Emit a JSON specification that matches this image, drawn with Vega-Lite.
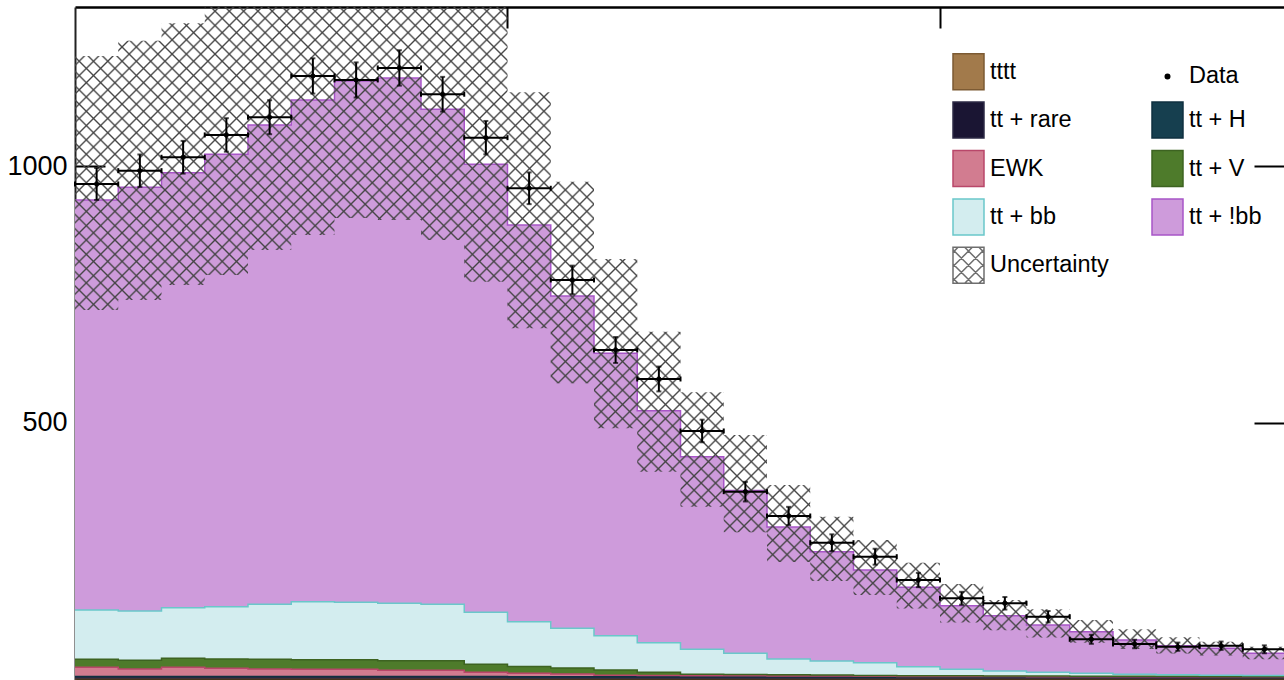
{
"$schema": "https://vega.github.io/schema/vega-lite/v6.json",
"width": 1209, "height": 672.5,
"autosize": "none",
"padding": {"left": 75, "top": 7, "right": 0, "bottom": 0},
"background": "white",
"config": {
 "view": {"stroke": null},
 "axis": {"grid": false},
 "legend": {"orient": "none", "legendX": 874.5, "legendY": 45.7, "columns": 2, "columnPadding": 39, "rowPadding": 6.4, "symbolSize": 1296, "labelFont": "Liberation Sans", "labelFontSize": 23.5, "labelColor": "#000", "labelOffset": 2.5, "symbolStrokeWidth": 1.5, "padding": 0, "labelLimit": 0, "symbolOpacity": 1}
},
"datasets": {"bins": [
{"x0":0,"x1":1,"xc":0.5,"tttt":0.5,"tt + rare":3.5,"tt + H":2,"EWK":17.8,"tt + V":15.6,"tt + bb":96,"tt + !bb":798.7,"Data":965.3,"err":31.1,"ulo":719.7,"uhi":1214.7},
{"x0":1,"x1":2,"xc":1.5,"tttt":0.5,"tt + rare":3.5,"tt + H":2,"EWK":14.5,"tt + V":16.9,"tt + bb":96.1,"tt + !bb":825.4,"Data":991.2,"err":31.5,"ulo":739.3,"uhi":1244.5},
{"x0":2,"x1":3,"xc":2.5,"tttt":0.5,"tt + rare":3.5,"tt + H":2,"EWK":17.8,"tt + V":17.5,"tt + bb":98.6,"tt + !bb":847.4,"Data":1017.3,"err":31.9,"ulo":768.6,"uhi":1278.4},
{"x0":3,"x1":4,"xc":3.5,"tttt":0.5,"tt + rare":3.5,"tt + H":2,"EWK":15.8,"tt + V":18.1,"tt + bb":101.9,"tt + !bb":881.4,"Data":1060.8,"err":32.6,"ulo":788,"uhi":1320},
{"x0":4,"x1":5,"xc":4.5,"tttt":0.5,"tt + rare":3.5,"tt + H":2,"EWK":14.5,"tt + V":18.9,"tt + bb":107.1,"tt + !bb":933.8,"Data":1095.3,"err":33.1,"ulo":836.7,"uhi":1394},
{"x0":5,"x1":6,"xc":5.5,"tttt":0.5,"tt + rare":3.5,"tt + H":2,"EWK":13.9,"tt + V":18.7,"tt + bb":113,"tt + !bb":977.4,"Data":1175.7,"err":34.3,"ulo":866,"uhi":1456},
{"x0":6,"x1":7,"xc":6.5,"tttt":0.5,"tt + rare":3.5,"tt + H":2,"EWK":13.9,"tt + V":18.7,"tt + bb":111.8,"tt + !bb":1015.6,"Data":1167.9,"err":34.2,"ulo":899,"uhi":1504},
{"x0":7,"x1":8,"xc":7.5,"tttt":0.5,"tt + rare":3.5,"tt + H":2,"EWK":11.9,"tt + V":18.7,"tt + bb":111.9,"tt + !bb":1023.3,"Data":1191.3,"err":34.5,"ulo":895,"uhi":1512},
{"x0":8,"x1":9,"xc":8.5,"tttt":0.5,"tt + rare":3.5,"tt + H":2,"EWK":11.9,"tt + V":18.7,"tt + bb":109.9,"tt + !bb":964.4,"Data":1140.1,"err":33.8,"ulo":856.2,"uhi":1433},
{"x0":9,"x1":10,"xc":9.5,"tttt":0.5,"tt + rare":3.5,"tt + H":2,"EWK":8,"tt + V":15.6,"tt + bb":101.3,"tt + !bb":872.8,"Data":1055.5,"err":32.5,"ulo":775,"uhi":1315},
{"x0":10,"x1":11,"xc":10.5,"tttt":0.4,"tt + rare":3.2,"tt + H":1.8,"EWK":6.7,"tt + V":13.2,"tt + bb":87.3,"tt + !bb":772.8,"Data":956.9,"err":30.9,"ulo":684.2,"uhi":1144},
{"x0":11,"x1":12,"xc":11.5,"tttt":0.4,"tt + rare":3.2,"tt + H":1.8,"EWK":5.3,"tt + V":11.7,"tt + bb":77.3,"tt + !bb":647.4,"Data":778.3,"err":27.9,"ulo":577,"uhi":969.8},
{"x0":12,"x1":13,"xc":12.5,"tttt":0.4,"tt + rare":3.2,"tt + H":1.8,"EWK":3,"tt + V":10.1,"tt + bb":66.8,"tt + !bb":550.1,"Data":641.9,"err":25.3,"ulo":489.4,"uhi":819.2},
{"x0":13,"x1":14,"xc":13.5,"tttt":0.4,"tt + rare":3.2,"tt + H":1.8,"EWK":2.5,"tt + V":6.1,"tt + bb":57.7,"tt + !bb":451.9,"Data":585.4,"err":24.2,"ulo":404.8,"uhi":677.6},
{"x0":14,"x1":15,"xc":14.5,"tttt":0.4,"tt + rare":3.2,"tt + H":1.8,"EWK":2,"tt + V":3,"tt + bb":48.4,"tt + !bb":375.2,"Data":484.1,"err":22,"ulo":336.6,"uhi":559.5},
{"x0":15,"x1":16,"xc":15.5,"tttt":0.4,"tt + rare":3.2,"tt + H":1.8,"EWK":1.8,"tt + V":2.6,"tt + bb":41.2,"tt + !bb":317,"Data":365.9,"err":19.1,"ulo":287,"uhi":476.3},
{"x0":16,"x1":17,"xc":16.5,"tttt":0.4,"tt + rare":3.2,"tt + H":1.8,"EWK":1.5,"tt + V":2.3,"tt + bb":30.7,"tt + !bb":257.1,"Data":318.5,"err":17.8,"ulo":229,"uhi":379},
{"x0":17,"x1":18,"xc":17.5,"tttt":0.4,"tt + rare":3.2,"tt + H":1.8,"EWK":1.3,"tt + V":2,"tt + bb":27.3,"tt + !bb":212.8,"Data":266.5,"err":16.3,"ulo":192,"uhi":317.2},
{"x0":18,"x1":19,"xc":18.5,"tttt":0.3,"tt + rare":3,"tt + H":1.6,"EWK":1.2,"tt + V":1.8,"tt + bb":24.8,"tt + !bb":180.6,"Data":239.2,"err":15.5,"ulo":164.5,"uhi":271.8},
{"x0":19,"x1":20,"xc":19.5,"tttt":0.3,"tt + rare":3,"tt + H":1.6,"EWK":1,"tt + V":1.6,"tt + bb":17.4,"tt + !bb":154.7,"Data":193.8,"err":13.9,"ulo":138.5,"uhi":227.5},
{"x0":20,"x1":21,"xc":20.5,"tttt":0.3,"tt + rare":3,"tt + H":1.6,"EWK":0.9,"tt + V":1.4,"tt + bb":12.7,"tt + !bb":123.9,"Data":158.2,"err":12.6,"ulo":111,"uhi":186},
{"x0":21,"x1":22,"xc":21.5,"tttt":0.3,"tt + rare":3,"tt + H":1.6,"EWK":0.8,"tt + V":1.2,"tt + bb":9.5,"tt + !bb":107.9,"Data":148.5,"err":12.2,"ulo":95.7,"uhi":155},
{"x0":22,"x1":23,"xc":22.5,"tttt":0.3,"tt + rare":3,"tt + H":1.6,"EWK":0.7,"tt + V":1.1,"tt + bb":7.5,"tt + !bb":92,"Data":122.3,"err":11.1,"ulo":81.8,"uhi":136.7},
{"x0":23,"x1":24,"xc":23.5,"tttt":0.3,"tt + rare":3,"tt + H":1.6,"EWK":0.6,"tt + V":1,"tt + bb":5.5,"tt + !bb":81.2,"Data":78.3,"err":8.8,"ulo":71.8,"uhi":115.9},
{"x0":24,"x1":25,"xc":24.5,"tttt":0.3,"tt + rare":3,"tt + H":1.6,"EWK":0.5,"tt + V":0.9,"tt + bb":4,"tt + !bb":66.7,"Data":69.2,"err":8.3,"ulo":59.3,"uhi":97.8},
{"x0":25,"x1":26,"xc":25.5,"tttt":0.3,"tt + rare":3,"tt + H":1.6,"EWK":0.5,"tt + V":0.8,"tt + bb":3,"tt + !bb":56.7,"Data":63.9,"err":8,"ulo":50.7,"uhi":82.2},
{"x0":26,"x1":27,"xc":26.5,"tttt":0.3,"tt + rare":3,"tt + H":1.6,"EWK":0.4,"tt + V":0.7,"tt + bb":2.5,"tt + !bb":52.3,"Data":65.8,"err":8.1,"ulo":46.8,"uhi":73.6},
{"x0":27,"x1":28,"xc":27.5,"tttt":0.3,"tt + rare":3,"tt + H":1.6,"EWK":0.4,"tt + V":0.6,"tt + bb":2,"tt + !bb":43.1,"Data":58.8,"err":7.7,"ulo":39.3,"uhi":64}
]},
"data": {"name": "bins"},
"layer": [
{
 "transform": [
  {"fold": ["tttt","tt + rare","tt + H","EWK","tt + V","tt + bb","tt + !bb"], "as": ["p","n"]},
  {"stack": "n", "groupby": ["x0"], "as": ["c0","c1"]},
  {"fold": ["x0","x1"], "as": ["ek","edge"]}
 ],
 "mark": {"type": "area", "interpolate": "linear", "opacity": 1, "clip": true},
 "encoding": {
  "x": {"field": "edge", "type": "quantitative", "scale": {"domain": [0, 27.954], "nice": false, "zero": false}, "axis": {"orient": "bottom", "labels": false, "ticks": false, "domain": true, "domainColor": "#000", "domainWidth": 2, "title": null, "grid": false}},
  "y": {"field": "c0", "type": "quantitative", "scale": {"domain": [0, 1310], "nice": false, "zero": false}, "axis": {"orient": "left", "values": [500, 1000], "format": "d", "tickSize": -30, "tickWidth": 2, "tickColor": "#000", "labelPadding": 38, "labelFont": "Liberation Sans", "labelFontSize": 27, "labelColor": "#000", "domain": true, "domainColor": "#222", "domainWidth": 2, "title": null, "grid": false}},
  "y2": {"field": "c1"},
  "fill": {"field": "p", "type": "nominal", "scale": {"domain": ["tttt","tt + rare","EWK","tt + bb","Uncertainty","Data","tt + H","tt + V","tt + !bb"], "range": ["#a27a4b","#1a1533","#d27c90","#d3edef","#ffffff","#000000","#163f4f","#4e7b2b","#ce9bdb"]}, "legend": {"title": null}},
  "order": [{"field": "edge", "type": "quantitative"}, {"field": "x0", "type": "quantitative"}]
 }
},
{
 "transform": [
  {"fold": ["tttt","tt + rare","tt + H","EWK","tt + V","tt + bb","tt + !bb"], "as": ["p","n"]},
  {"stack": "n", "groupby": ["x0"], "as": ["c0","c1"]},
  {"fold": ["x0","x1"], "as": ["ek","edge"]}
 ],
 "mark": {"type": "line", "interpolate": "linear", "strokeWidth": 1.5, "clip": true},
 "encoding": {
  "x": {"field": "edge", "type": "quantitative", "scale": {"domain": [0, 27.954], "nice": false, "zero": false}, "axis": {"orient": "top", "values": [10, 20], "tickSize": -21, "tickWidth": 2, "tickColor": "#000", "labels": false, "domain": true, "domainColor": "#000", "domainWidth": 2.5, "title": null, "grid": false}},
  "y": {"field": "c1", "type": "quantitative", "scale": {"domain": [0, 1310], "nice": false, "zero": false}, "axis": {"orient": "right", "values": [500, 1000], "tickSize": -30, "tickWidth": 2, "tickColor": "#000", "labels": false, "domain": false, "title": null, "grid": false}},
  "stroke": {"field": "p", "type": "nominal", "scale": {"domain": ["tttt","tt + rare","EWK","tt + bb","Uncertainty","Data","tt + H","tt + V","tt + !bb"], "range": ["#7c5a33","#2d2a45","#b9476a","#6ac7ca","#6e6e6e","#000000","#0f3040","#3d6321","#a855c8"]}, "legend": {"title": null}},
  "order": [{"field": "edge", "type": "quantitative"}, {"field": "x0", "type": "quantitative"}]
 }
},
{
 "transform": [{"fold": ["x0","x1"], "as": ["ek","edge"]}],
 "mark": {"type": "area", "interpolate": "linear", "clip": true, "opacity": 1, "fill": {"gradient": "linear", "x1": 0.0357, "y1": 0.0223, "x2": 1.1686, "y2": 0.7295, "stops": [
{"offset":0.045,"color":"#4440"},{"offset":0.046,"color":"#444"},{"offset":0.047,"color":"#4440"},
{"offset":0.0525,"color":"#4440"},{"offset":0.0535,"color":"#444"},{"offset":0.0545,"color":"#4440"},
{"offset":0.06,"color":"#4440"},{"offset":0.061,"color":"#444"},{"offset":0.062,"color":"#4440"},
{"offset":0.0675,"color":"#4440"},{"offset":0.0685,"color":"#444"},{"offset":0.0695,"color":"#4440"},
{"offset":0.075,"color":"#4440"},{"offset":0.076,"color":"#444"},{"offset":0.077,"color":"#4440"},
{"offset":0.0825,"color":"#4440"},{"offset":0.0835,"color":"#444"},{"offset":0.0845,"color":"#4440"},
{"offset":0.09,"color":"#4440"},{"offset":0.091,"color":"#444"},{"offset":0.092,"color":"#4440"},
{"offset":0.0975,"color":"#4440"},{"offset":0.0985,"color":"#444"},{"offset":0.0995,"color":"#4440"},
{"offset":0.105,"color":"#4440"},{"offset":0.106,"color":"#444"},{"offset":0.107,"color":"#4440"},
{"offset":0.1125,"color":"#4440"},{"offset":0.1135,"color":"#444"},{"offset":0.1145,"color":"#4440"},
{"offset":0.12,"color":"#4440"},{"offset":0.121,"color":"#444"},{"offset":0.122,"color":"#4440"},
{"offset":0.1275,"color":"#4440"},{"offset":0.1285,"color":"#444"},{"offset":0.1295,"color":"#4440"},
{"offset":0.135,"color":"#4440"},{"offset":0.136,"color":"#444"},{"offset":0.137,"color":"#4440"},
{"offset":0.1425,"color":"#4440"},{"offset":0.1435,"color":"#444"},{"offset":0.1445,"color":"#4440"},
{"offset":0.15,"color":"#4440"},{"offset":0.151,"color":"#444"},{"offset":0.152,"color":"#4440"},
{"offset":0.1575,"color":"#4440"},{"offset":0.1585,"color":"#444"},{"offset":0.1595,"color":"#4440"},
{"offset":0.165,"color":"#4440"},{"offset":0.166,"color":"#444"},{"offset":0.167,"color":"#4440"},
{"offset":0.1725,"color":"#4440"},{"offset":0.1735,"color":"#444"},{"offset":0.1745,"color":"#4440"},
{"offset":0.18,"color":"#4440"},{"offset":0.181,"color":"#444"},{"offset":0.182,"color":"#4440"},
{"offset":0.1875,"color":"#4440"},{"offset":0.1885,"color":"#444"},{"offset":0.1895,"color":"#4440"},
{"offset":0.195,"color":"#4440"},{"offset":0.196,"color":"#444"},{"offset":0.197,"color":"#4440"},
{"offset":0.2025,"color":"#4440"},{"offset":0.2035,"color":"#444"},{"offset":0.2045,"color":"#4440"},
{"offset":0.21,"color":"#4440"},{"offset":0.211,"color":"#444"},{"offset":0.212,"color":"#4440"},
{"offset":0.2175,"color":"#4440"},{"offset":0.2185,"color":"#444"},{"offset":0.2195,"color":"#4440"},
{"offset":0.225,"color":"#4440"},{"offset":0.226,"color":"#444"},{"offset":0.227,"color":"#4440"},
{"offset":0.2325,"color":"#4440"},{"offset":0.2335,"color":"#444"},{"offset":0.2345,"color":"#4440"},
{"offset":0.24,"color":"#4440"},{"offset":0.241,"color":"#444"},{"offset":0.242,"color":"#4440"},
{"offset":0.2475,"color":"#4440"},{"offset":0.2485,"color":"#444"},{"offset":0.2495,"color":"#4440"},
{"offset":0.255,"color":"#4440"},{"offset":0.256,"color":"#444"},{"offset":0.257,"color":"#4440"},
{"offset":0.2625,"color":"#4440"},{"offset":0.2635,"color":"#444"},{"offset":0.2645,"color":"#4440"},
{"offset":0.27,"color":"#4440"},{"offset":0.271,"color":"#444"},{"offset":0.272,"color":"#4440"},
{"offset":0.2775,"color":"#4440"},{"offset":0.2785,"color":"#444"},{"offset":0.2795,"color":"#4440"},
{"offset":0.285,"color":"#4440"},{"offset":0.286,"color":"#444"},{"offset":0.287,"color":"#4440"},
{"offset":0.2925,"color":"#4440"},{"offset":0.2935,"color":"#444"},{"offset":0.2945,"color":"#4440"},
{"offset":0.3,"color":"#4440"},{"offset":0.301,"color":"#444"},{"offset":0.302,"color":"#4440"},
{"offset":0.3075,"color":"#4440"},{"offset":0.3085,"color":"#444"},{"offset":0.3095,"color":"#4440"},
{"offset":0.315,"color":"#4440"},{"offset":0.316,"color":"#444"},{"offset":0.317,"color":"#4440"},
{"offset":0.3225,"color":"#4440"},{"offset":0.3235,"color":"#444"},{"offset":0.3245,"color":"#4440"},
{"offset":0.33,"color":"#4440"},{"offset":0.331,"color":"#444"},{"offset":0.332,"color":"#4440"},
{"offset":0.3375,"color":"#4440"},{"offset":0.3385,"color":"#444"},{"offset":0.3395,"color":"#4440"},
{"offset":0.345,"color":"#4440"},{"offset":0.346,"color":"#444"},{"offset":0.347,"color":"#4440"},
{"offset":0.3525,"color":"#4440"},{"offset":0.3535,"color":"#444"},{"offset":0.3545,"color":"#4440"},
{"offset":0.36,"color":"#4440"},{"offset":0.361,"color":"#444"},{"offset":0.362,"color":"#4440"},
{"offset":0.3675,"color":"#4440"},{"offset":0.3685,"color":"#444"},{"offset":0.3695,"color":"#4440"},
{"offset":0.375,"color":"#4440"},{"offset":0.376,"color":"#444"},{"offset":0.377,"color":"#4440"},
{"offset":0.3825,"color":"#4440"},{"offset":0.3835,"color":"#444"},{"offset":0.3845,"color":"#4440"},
{"offset":0.39,"color":"#4440"},{"offset":0.391,"color":"#444"},{"offset":0.392,"color":"#4440"},
{"offset":0.3975,"color":"#4440"},{"offset":0.3985,"color":"#444"},{"offset":0.3995,"color":"#4440"},
{"offset":0.405,"color":"#4440"},{"offset":0.406,"color":"#444"},{"offset":0.407,"color":"#4440"},
{"offset":0.4125,"color":"#4440"},{"offset":0.4135,"color":"#444"},{"offset":0.4145,"color":"#4440"},
{"offset":0.42,"color":"#4440"},{"offset":0.421,"color":"#444"},{"offset":0.422,"color":"#4440"},
{"offset":0.4275,"color":"#4440"},{"offset":0.4285,"color":"#444"},{"offset":0.4295,"color":"#4440"},
{"offset":0.435,"color":"#4440"},{"offset":0.436,"color":"#444"},{"offset":0.437,"color":"#4440"},
{"offset":0.4425,"color":"#4440"},{"offset":0.4435,"color":"#444"},{"offset":0.4445,"color":"#4440"},
{"offset":0.45,"color":"#4440"},{"offset":0.451,"color":"#444"},{"offset":0.452,"color":"#4440"},
{"offset":0.4575,"color":"#4440"},{"offset":0.4585,"color":"#444"},{"offset":0.4595,"color":"#4440"},
{"offset":0.465,"color":"#4440"},{"offset":0.466,"color":"#444"},{"offset":0.467,"color":"#4440"},
{"offset":0.4725,"color":"#4440"},{"offset":0.4735,"color":"#444"},{"offset":0.4745,"color":"#4440"},
{"offset":0.48,"color":"#4440"},{"offset":0.481,"color":"#444"},{"offset":0.482,"color":"#4440"},
{"offset":0.4875,"color":"#4440"},{"offset":0.4885,"color":"#444"},{"offset":0.4895,"color":"#4440"},
{"offset":0.495,"color":"#4440"},{"offset":0.496,"color":"#444"},{"offset":0.497,"color":"#4440"},
{"offset":0.5025,"color":"#4440"},{"offset":0.5035,"color":"#444"},{"offset":0.5045,"color":"#4440"},
{"offset":0.51,"color":"#4440"},{"offset":0.511,"color":"#444"},{"offset":0.512,"color":"#4440"},
{"offset":0.5175,"color":"#4440"},{"offset":0.5185,"color":"#444"},{"offset":0.5195,"color":"#4440"},
{"offset":0.525,"color":"#4440"},{"offset":0.526,"color":"#444"},{"offset":0.527,"color":"#4440"},
{"offset":0.5325,"color":"#4440"},{"offset":0.5335,"color":"#444"},{"offset":0.5345,"color":"#4440"},
{"offset":0.54,"color":"#4440"},{"offset":0.541,"color":"#444"},{"offset":0.542,"color":"#4440"},
{"offset":0.5475,"color":"#4440"},{"offset":0.5485,"color":"#444"},{"offset":0.5495,"color":"#4440"},
{"offset":0.555,"color":"#4440"},{"offset":0.556,"color":"#444"},{"offset":0.557,"color":"#4440"},
{"offset":0.5625,"color":"#4440"},{"offset":0.5635,"color":"#444"},{"offset":0.5645,"color":"#4440"},
{"offset":0.57,"color":"#4440"},{"offset":0.571,"color":"#444"},{"offset":0.572,"color":"#4440"},
{"offset":0.5775,"color":"#4440"},{"offset":0.5785,"color":"#444"},{"offset":0.5795,"color":"#4440"},
{"offset":0.585,"color":"#4440"},{"offset":0.586,"color":"#444"},{"offset":0.587,"color":"#4440"},
{"offset":0.5925,"color":"#4440"},{"offset":0.5935,"color":"#444"},{"offset":0.5945,"color":"#4440"},
{"offset":0.6,"color":"#4440"},{"offset":0.601,"color":"#444"},{"offset":0.602,"color":"#4440"},
{"offset":0.6075,"color":"#4440"},{"offset":0.6085,"color":"#444"},{"offset":0.6095,"color":"#4440"},
{"offset":0.615,"color":"#4440"},{"offset":0.616,"color":"#444"},{"offset":0.617,"color":"#4440"},
{"offset":0.6225,"color":"#4440"},{"offset":0.6235,"color":"#444"},{"offset":0.6245,"color":"#4440"},
{"offset":0.63,"color":"#4440"},{"offset":0.631,"color":"#444"},{"offset":0.632,"color":"#4440"},
{"offset":0.6375,"color":"#4440"},{"offset":0.6385,"color":"#444"},{"offset":0.6395,"color":"#4440"},
{"offset":0.645,"color":"#4440"},{"offset":0.646,"color":"#444"},{"offset":0.647,"color":"#4440"},
{"offset":0.6525,"color":"#4440"},{"offset":0.6535,"color":"#444"},{"offset":0.6545,"color":"#4440"},
{"offset":0.66,"color":"#4440"},{"offset":0.661,"color":"#444"},{"offset":0.662,"color":"#4440"},
{"offset":0.6675,"color":"#4440"},{"offset":0.6685,"color":"#444"},{"offset":0.6695,"color":"#4440"},
{"offset":0.675,"color":"#4440"},{"offset":0.676,"color":"#444"},{"offset":0.677,"color":"#4440"},
{"offset":0.6825,"color":"#4440"},{"offset":0.6835,"color":"#444"},{"offset":0.6845,"color":"#4440"},
{"offset":0.69,"color":"#4440"},{"offset":0.691,"color":"#444"},{"offset":0.692,"color":"#4440"},
{"offset":0.6975,"color":"#4440"},{"offset":0.6985,"color":"#444"},{"offset":0.6995,"color":"#4440"},
{"offset":0.705,"color":"#4440"},{"offset":0.706,"color":"#444"},{"offset":0.707,"color":"#4440"},
{"offset":0.7125,"color":"#4440"},{"offset":0.7135,"color":"#444"},{"offset":0.7145,"color":"#4440"},
{"offset":0.72,"color":"#4440"},{"offset":0.721,"color":"#444"},{"offset":0.722,"color":"#4440"},
{"offset":0.7275,"color":"#4440"},{"offset":0.7285,"color":"#444"},{"offset":0.7295,"color":"#4440"},
{"offset":0.735,"color":"#4440"},{"offset":0.736,"color":"#444"},{"offset":0.737,"color":"#4440"},
{"offset":0.7425,"color":"#4440"},{"offset":0.7435,"color":"#444"},{"offset":0.7445,"color":"#4440"},
{"offset":0.75,"color":"#4440"},{"offset":0.751,"color":"#444"},{"offset":0.752,"color":"#4440"},
{"offset":0.7575,"color":"#4440"},{"offset":0.7585,"color":"#444"},{"offset":0.7595,"color":"#4440"},
{"offset":0.765,"color":"#4440"},{"offset":0.766,"color":"#444"},{"offset":0.767,"color":"#4440"},
{"offset":0.7725,"color":"#4440"},{"offset":0.7735,"color":"#444"},{"offset":0.7745,"color":"#4440"},
{"offset":0.78,"color":"#4440"},{"offset":0.781,"color":"#444"},{"offset":0.782,"color":"#4440"},
{"offset":0.7875,"color":"#4440"},{"offset":0.7885,"color":"#444"},{"offset":0.7895,"color":"#4440"},
{"offset":0.795,"color":"#4440"},{"offset":0.796,"color":"#444"},{"offset":0.797,"color":"#4440"},
{"offset":0.8025,"color":"#4440"},{"offset":0.8035,"color":"#444"},{"offset":0.8045,"color":"#4440"},
{"offset":0.81,"color":"#4440"},{"offset":0.811,"color":"#444"},{"offset":0.812,"color":"#4440"},
{"offset":0.8175,"color":"#4440"},{"offset":0.8185,"color":"#444"},{"offset":0.8195,"color":"#4440"},
{"offset":0.825,"color":"#4440"},{"offset":0.826,"color":"#444"},{"offset":0.827,"color":"#4440"},
{"offset":0.8325,"color":"#4440"},{"offset":0.8335,"color":"#444"},{"offset":0.8345,"color":"#4440"},
{"offset":0.84,"color":"#4440"},{"offset":0.841,"color":"#444"},{"offset":0.842,"color":"#4440"},
{"offset":0.8475,"color":"#4440"},{"offset":0.8485,"color":"#444"},{"offset":0.8495,"color":"#4440"},
{"offset":0.855,"color":"#4440"},{"offset":0.856,"color":"#444"},{"offset":0.857,"color":"#4440"},
{"offset":0.8625,"color":"#4440"},{"offset":0.8635,"color":"#444"},{"offset":0.8645,"color":"#4440"},
{"offset":0.87,"color":"#4440"},{"offset":0.871,"color":"#444"},{"offset":0.872,"color":"#4440"},
{"offset":0.8775,"color":"#4440"},{"offset":0.8785,"color":"#444"},{"offset":0.8795,"color":"#4440"},
{"offset":0.885,"color":"#4440"},{"offset":0.886,"color":"#444"},{"offset":0.887,"color":"#4440"},
{"offset":0.8925,"color":"#4440"},{"offset":0.8935,"color":"#444"},{"offset":0.8945,"color":"#4440"},
{"offset":0.9,"color":"#4440"},{"offset":0.901,"color":"#444"},{"offset":0.902,"color":"#4440"},
{"offset":0.9075,"color":"#4440"},{"offset":0.9085,"color":"#444"},{"offset":0.9095,"color":"#4440"},
{"offset":0.915,"color":"#4440"},{"offset":0.916,"color":"#444"},{"offset":0.917,"color":"#4440"},
{"offset":0.9225,"color":"#4440"},{"offset":0.9235,"color":"#444"},{"offset":0.9245,"color":"#4440"},
{"offset":0.93,"color":"#4440"},{"offset":0.931,"color":"#444"},{"offset":0.932,"color":"#4440"},
{"offset":0.9375,"color":"#4440"},{"offset":0.9385,"color":"#444"},{"offset":0.9395,"color":"#4440"},
{"offset":0.945,"color":"#4440"},{"offset":0.946,"color":"#444"},{"offset":0.947,"color":"#4440"},
{"offset":0.9525,"color":"#4440"},{"offset":0.9535,"color":"#444"},{"offset":0.9545,"color":"#4440"},
{"offset":0.96,"color":"#4440"},{"offset":0.961,"color":"#444"},{"offset":0.962,"color":"#4440"},
{"offset":0.9675,"color":"#4440"},{"offset":0.9685,"color":"#444"},{"offset":0.9695,"color":"#4440"},
{"offset":0.975,"color":"#4440"},{"offset":0.976,"color":"#444"},{"offset":0.977,"color":"#4440"},
{"offset":0.9825,"color":"#4440"},{"offset":0.9835,"color":"#444"},{"offset":0.9845,"color":"#4440"},
{"offset":0.99,"color":"#4440"},{"offset":0.991,"color":"#444"},{"offset":0.992,"color":"#4440"},
{"offset":0.9975,"color":"#4440"},{"offset":0.9985,"color":"#444"},{"offset":0.9995,"color":"#4440"}
 ]}},
 "encoding": {
  "x": {"field": "edge", "type": "quantitative", "scale": {"domain": [0, 27.954], "nice": false, "zero": false}, "axis": null},
  "y": {"field": "ulo", "type": "quantitative", "scale": {"domain": [0, 1310], "nice": false, "zero": false}, "axis": null},
  "y2": {"field": "uhi"},
  "order": [{"field": "edge", "type": "quantitative"}, {"field": "x0", "type": "quantitative"}]
 }
},
{
 "transform": [{"fold": ["x0","x1"], "as": ["ek","edge"]}],
 "mark": {"type": "area", "interpolate": "linear", "clip": true, "opacity": 1, "fill": {"gradient": "linear", "x1": 0.1783, "y1": 0.8887, "x2": 1.3112, "y2": 0.1814, "stops": [
{"offset":0.0225,"color":"#4440"},{"offset":0.0235,"color":"#444"},{"offset":0.0245,"color":"#4440"},
{"offset":0.03,"color":"#4440"},{"offset":0.031,"color":"#444"},{"offset":0.032,"color":"#4440"},
{"offset":0.0375,"color":"#4440"},{"offset":0.0385,"color":"#444"},{"offset":0.0395,"color":"#4440"},
{"offset":0.045,"color":"#4440"},{"offset":0.046,"color":"#444"},{"offset":0.047,"color":"#4440"},
{"offset":0.0525,"color":"#4440"},{"offset":0.0535,"color":"#444"},{"offset":0.0545,"color":"#4440"},
{"offset":0.06,"color":"#4440"},{"offset":0.061,"color":"#444"},{"offset":0.062,"color":"#4440"},
{"offset":0.0675,"color":"#4440"},{"offset":0.0685,"color":"#444"},{"offset":0.0695,"color":"#4440"},
{"offset":0.075,"color":"#4440"},{"offset":0.076,"color":"#444"},{"offset":0.077,"color":"#4440"},
{"offset":0.0825,"color":"#4440"},{"offset":0.0835,"color":"#444"},{"offset":0.0845,"color":"#4440"},
{"offset":0.09,"color":"#4440"},{"offset":0.091,"color":"#444"},{"offset":0.092,"color":"#4440"},
{"offset":0.0975,"color":"#4440"},{"offset":0.0985,"color":"#444"},{"offset":0.0995,"color":"#4440"},
{"offset":0.105,"color":"#4440"},{"offset":0.106,"color":"#444"},{"offset":0.107,"color":"#4440"},
{"offset":0.1125,"color":"#4440"},{"offset":0.1135,"color":"#444"},{"offset":0.1145,"color":"#4440"},
{"offset":0.12,"color":"#4440"},{"offset":0.121,"color":"#444"},{"offset":0.122,"color":"#4440"},
{"offset":0.1275,"color":"#4440"},{"offset":0.1285,"color":"#444"},{"offset":0.1295,"color":"#4440"},
{"offset":0.135,"color":"#4440"},{"offset":0.136,"color":"#444"},{"offset":0.137,"color":"#4440"},
{"offset":0.1425,"color":"#4440"},{"offset":0.1435,"color":"#444"},{"offset":0.1445,"color":"#4440"},
{"offset":0.15,"color":"#4440"},{"offset":0.151,"color":"#444"},{"offset":0.152,"color":"#4440"},
{"offset":0.1575,"color":"#4440"},{"offset":0.1585,"color":"#444"},{"offset":0.1595,"color":"#4440"},
{"offset":0.165,"color":"#4440"},{"offset":0.166,"color":"#444"},{"offset":0.167,"color":"#4440"},
{"offset":0.1725,"color":"#4440"},{"offset":0.1735,"color":"#444"},{"offset":0.1745,"color":"#4440"},
{"offset":0.18,"color":"#4440"},{"offset":0.181,"color":"#444"},{"offset":0.182,"color":"#4440"},
{"offset":0.1875,"color":"#4440"},{"offset":0.1885,"color":"#444"},{"offset":0.1895,"color":"#4440"},
{"offset":0.195,"color":"#4440"},{"offset":0.196,"color":"#444"},{"offset":0.197,"color":"#4440"},
{"offset":0.2025,"color":"#4440"},{"offset":0.2035,"color":"#444"},{"offset":0.2045,"color":"#4440"},
{"offset":0.21,"color":"#4440"},{"offset":0.211,"color":"#444"},{"offset":0.212,"color":"#4440"},
{"offset":0.2175,"color":"#4440"},{"offset":0.2185,"color":"#444"},{"offset":0.2195,"color":"#4440"},
{"offset":0.225,"color":"#4440"},{"offset":0.226,"color":"#444"},{"offset":0.227,"color":"#4440"},
{"offset":0.2325,"color":"#4440"},{"offset":0.2335,"color":"#444"},{"offset":0.2345,"color":"#4440"},
{"offset":0.24,"color":"#4440"},{"offset":0.241,"color":"#444"},{"offset":0.242,"color":"#4440"},
{"offset":0.2475,"color":"#4440"},{"offset":0.2485,"color":"#444"},{"offset":0.2495,"color":"#4440"},
{"offset":0.255,"color":"#4440"},{"offset":0.256,"color":"#444"},{"offset":0.257,"color":"#4440"},
{"offset":0.2625,"color":"#4440"},{"offset":0.2635,"color":"#444"},{"offset":0.2645,"color":"#4440"},
{"offset":0.27,"color":"#4440"},{"offset":0.271,"color":"#444"},{"offset":0.272,"color":"#4440"},
{"offset":0.2775,"color":"#4440"},{"offset":0.2785,"color":"#444"},{"offset":0.2795,"color":"#4440"},
{"offset":0.285,"color":"#4440"},{"offset":0.286,"color":"#444"},{"offset":0.287,"color":"#4440"},
{"offset":0.2925,"color":"#4440"},{"offset":0.2935,"color":"#444"},{"offset":0.2945,"color":"#4440"},
{"offset":0.3,"color":"#4440"},{"offset":0.301,"color":"#444"},{"offset":0.302,"color":"#4440"},
{"offset":0.3075,"color":"#4440"},{"offset":0.3085,"color":"#444"},{"offset":0.3095,"color":"#4440"},
{"offset":0.315,"color":"#4440"},{"offset":0.316,"color":"#444"},{"offset":0.317,"color":"#4440"},
{"offset":0.3225,"color":"#4440"},{"offset":0.3235,"color":"#444"},{"offset":0.3245,"color":"#4440"},
{"offset":0.33,"color":"#4440"},{"offset":0.331,"color":"#444"},{"offset":0.332,"color":"#4440"},
{"offset":0.3375,"color":"#4440"},{"offset":0.3385,"color":"#444"},{"offset":0.3395,"color":"#4440"},
{"offset":0.345,"color":"#4440"},{"offset":0.346,"color":"#444"},{"offset":0.347,"color":"#4440"},
{"offset":0.3525,"color":"#4440"},{"offset":0.3535,"color":"#444"},{"offset":0.3545,"color":"#4440"},
{"offset":0.36,"color":"#4440"},{"offset":0.361,"color":"#444"},{"offset":0.362,"color":"#4440"},
{"offset":0.3675,"color":"#4440"},{"offset":0.3685,"color":"#444"},{"offset":0.3695,"color":"#4440"},
{"offset":0.375,"color":"#4440"},{"offset":0.376,"color":"#444"},{"offset":0.377,"color":"#4440"},
{"offset":0.3825,"color":"#4440"},{"offset":0.3835,"color":"#444"},{"offset":0.3845,"color":"#4440"},
{"offset":0.39,"color":"#4440"},{"offset":0.391,"color":"#444"},{"offset":0.392,"color":"#4440"},
{"offset":0.3975,"color":"#4440"},{"offset":0.3985,"color":"#444"},{"offset":0.3995,"color":"#4440"},
{"offset":0.405,"color":"#4440"},{"offset":0.406,"color":"#444"},{"offset":0.407,"color":"#4440"},
{"offset":0.4125,"color":"#4440"},{"offset":0.4135,"color":"#444"},{"offset":0.4145,"color":"#4440"},
{"offset":0.42,"color":"#4440"},{"offset":0.421,"color":"#444"},{"offset":0.422,"color":"#4440"},
{"offset":0.4275,"color":"#4440"},{"offset":0.4285,"color":"#444"},{"offset":0.4295,"color":"#4440"},
{"offset":0.435,"color":"#4440"},{"offset":0.436,"color":"#444"},{"offset":0.437,"color":"#4440"},
{"offset":0.4425,"color":"#4440"},{"offset":0.4435,"color":"#444"},{"offset":0.4445,"color":"#4440"},
{"offset":0.45,"color":"#4440"},{"offset":0.451,"color":"#444"},{"offset":0.452,"color":"#4440"},
{"offset":0.4575,"color":"#4440"},{"offset":0.4585,"color":"#444"},{"offset":0.4595,"color":"#4440"},
{"offset":0.465,"color":"#4440"},{"offset":0.466,"color":"#444"},{"offset":0.467,"color":"#4440"},
{"offset":0.4725,"color":"#4440"},{"offset":0.4735,"color":"#444"},{"offset":0.4745,"color":"#4440"},
{"offset":0.48,"color":"#4440"},{"offset":0.481,"color":"#444"},{"offset":0.482,"color":"#4440"},
{"offset":0.4875,"color":"#4440"},{"offset":0.4885,"color":"#444"},{"offset":0.4895,"color":"#4440"}
 ]}},
 "encoding": {
  "x": {"field": "edge", "type": "quantitative", "scale": {"domain": [0, 27.954], "nice": false, "zero": false}, "axis": null},
  "y": {"field": "ulo", "type": "quantitative", "scale": {"domain": [0, 1310], "nice": false, "zero": false}, "axis": null},
  "y2": {"field": "uhi"},
  "order": [{"field": "edge", "type": "quantitative"}, {"field": "x0", "type": "quantitative"}]
 }
},
{
 "mark": {"type": "errorbar", "ticks": true, "size": 5, "thickness": 2, "color": "#000"},
 "encoding": {
  "x": {"field": "xc", "type": "quantitative", "scale": {"domain": [0, 27.954], "nice": false, "zero": false}, "axis": null},
  "y": {"field": "Data", "type": "quantitative", "scale": {"domain": [0, 1310], "nice": false, "zero": false}, "axis": null},
  "yError": {"field": "err"}
 }
},
{
 "mark": {"type": "rule", "strokeWidth": 2, "color": "#000"},
 "encoding": {
  "x": {"field": "x0", "type": "quantitative", "scale": {"domain": [0, 27.954], "nice": false, "zero": false}, "axis": null},
  "x2": {"field": "x1"},
  "y": {"field": "Data", "type": "quantitative", "scale": {"domain": [0, 1310], "nice": false, "zero": false}, "axis": null}
 }
},
{
 "mark": {"type": "tick", "orient": "vertical", "size": 5, "thickness": 2, "color": "#000", "opacity": 1},
 "encoding": {
  "x": {"field": "x0", "type": "quantitative", "scale": {"domain": [0, 27.954], "nice": false, "zero": false}, "axis": null},
  "y": {"field": "Data", "type": "quantitative", "scale": {"domain": [0, 1310], "nice": false, "zero": false}, "axis": null}
 }
},
{
 "mark": {"type": "tick", "orient": "vertical", "size": 5, "thickness": 2, "color": "#000", "opacity": 1},
 "encoding": {
  "x": {"field": "x1", "type": "quantitative", "scale": {"domain": [0, 27.954], "nice": false, "zero": false}, "axis": null},
  "y": {"field": "Data", "type": "quantitative", "scale": {"domain": [0, 1310], "nice": false, "zero": false}, "axis": null}
 }
},
{
 "transform": [{"fold": ["Data"], "as": ["p","n"]}],
 "mark": {"type": "point", "filled": true, "size": 1296, "strokeWidth": 1, "opacity": 1},
 "encoding": {
  "x": {"field": "xc", "type": "quantitative", "scale": {"domain": [0, 27.954], "nice": false, "zero": false}, "axis": null},
  "y": {"field": "n", "type": "quantitative", "scale": {"domain": [0, 1310], "nice": false, "zero": false}, "axis": null},
  "fill": {"field": "p", "type": "nominal", "scale": {"domain": ["tttt","tt + rare","EWK","tt + bb","Uncertainty","Data","tt + H","tt + V","tt + !bb"], "range": ["#a27a4b","#1a1533","#d27c90","#d3edef","#ffffff","#000000","#163f4f","#4e7b2b","#ce9bdb"]}, "legend": {"title": null}},
  "stroke": {"field": "p", "type": "nominal", "scale": {"domain": ["tttt","tt + rare","EWK","tt + bb","Uncertainty","Data","tt + H","tt + V","tt + !bb"], "range": ["#7c5a33","#2d2a45","#b9476a","#6ac7ca","#6e6e6e","#000000","#0f3040","#3d6321","#a855c8"]}, "legend": {"title": null}},
  "shape": {"field": "p", "type": "nominal", "scale": {"domain": ["tttt","tt + rare","EWK","tt + bb","Uncertainty","Data","tt + H","tt + V","tt + !bb"], "range": ["M-0.861,-1H0.861V1H-0.861Z","M-0.861,-1H0.861V1H-0.861Z","M-0.861,-1H0.861V1H-0.861Z","M-0.861,-1H0.861V1H-0.861Z","M-0.861,-1H0.861V1H-0.861ZM-0.861,0.861L0.861,-0.861M-0.21,1L0.861,-0.071M-0.861,0.071L0.21,-1M0.58,1L0.861,0.719M-0.861,-0.719L-0.58,-1M-0.861,-0.861L0.861,0.861M-0.861,-0.071L0.21,1M-0.21,-1L0.861,0.071M-0.861,0.719L-0.58,1M0.58,-1L0.861,-0.719","M-0.125,0A0.125,0.125,0,1,0,0.125,0A0.125,0.125,0,1,0,-0.125,0Z","M-0.861,-1H0.861V1H-0.861Z","M-0.861,-1H0.861V1H-0.861Z","M-0.861,-1H0.861V1H-0.861Z"]}, "legend": {"title": null}}
 }
}
],
"resolve": {"axis": {"x": "independent", "y": "independent"}}
}
